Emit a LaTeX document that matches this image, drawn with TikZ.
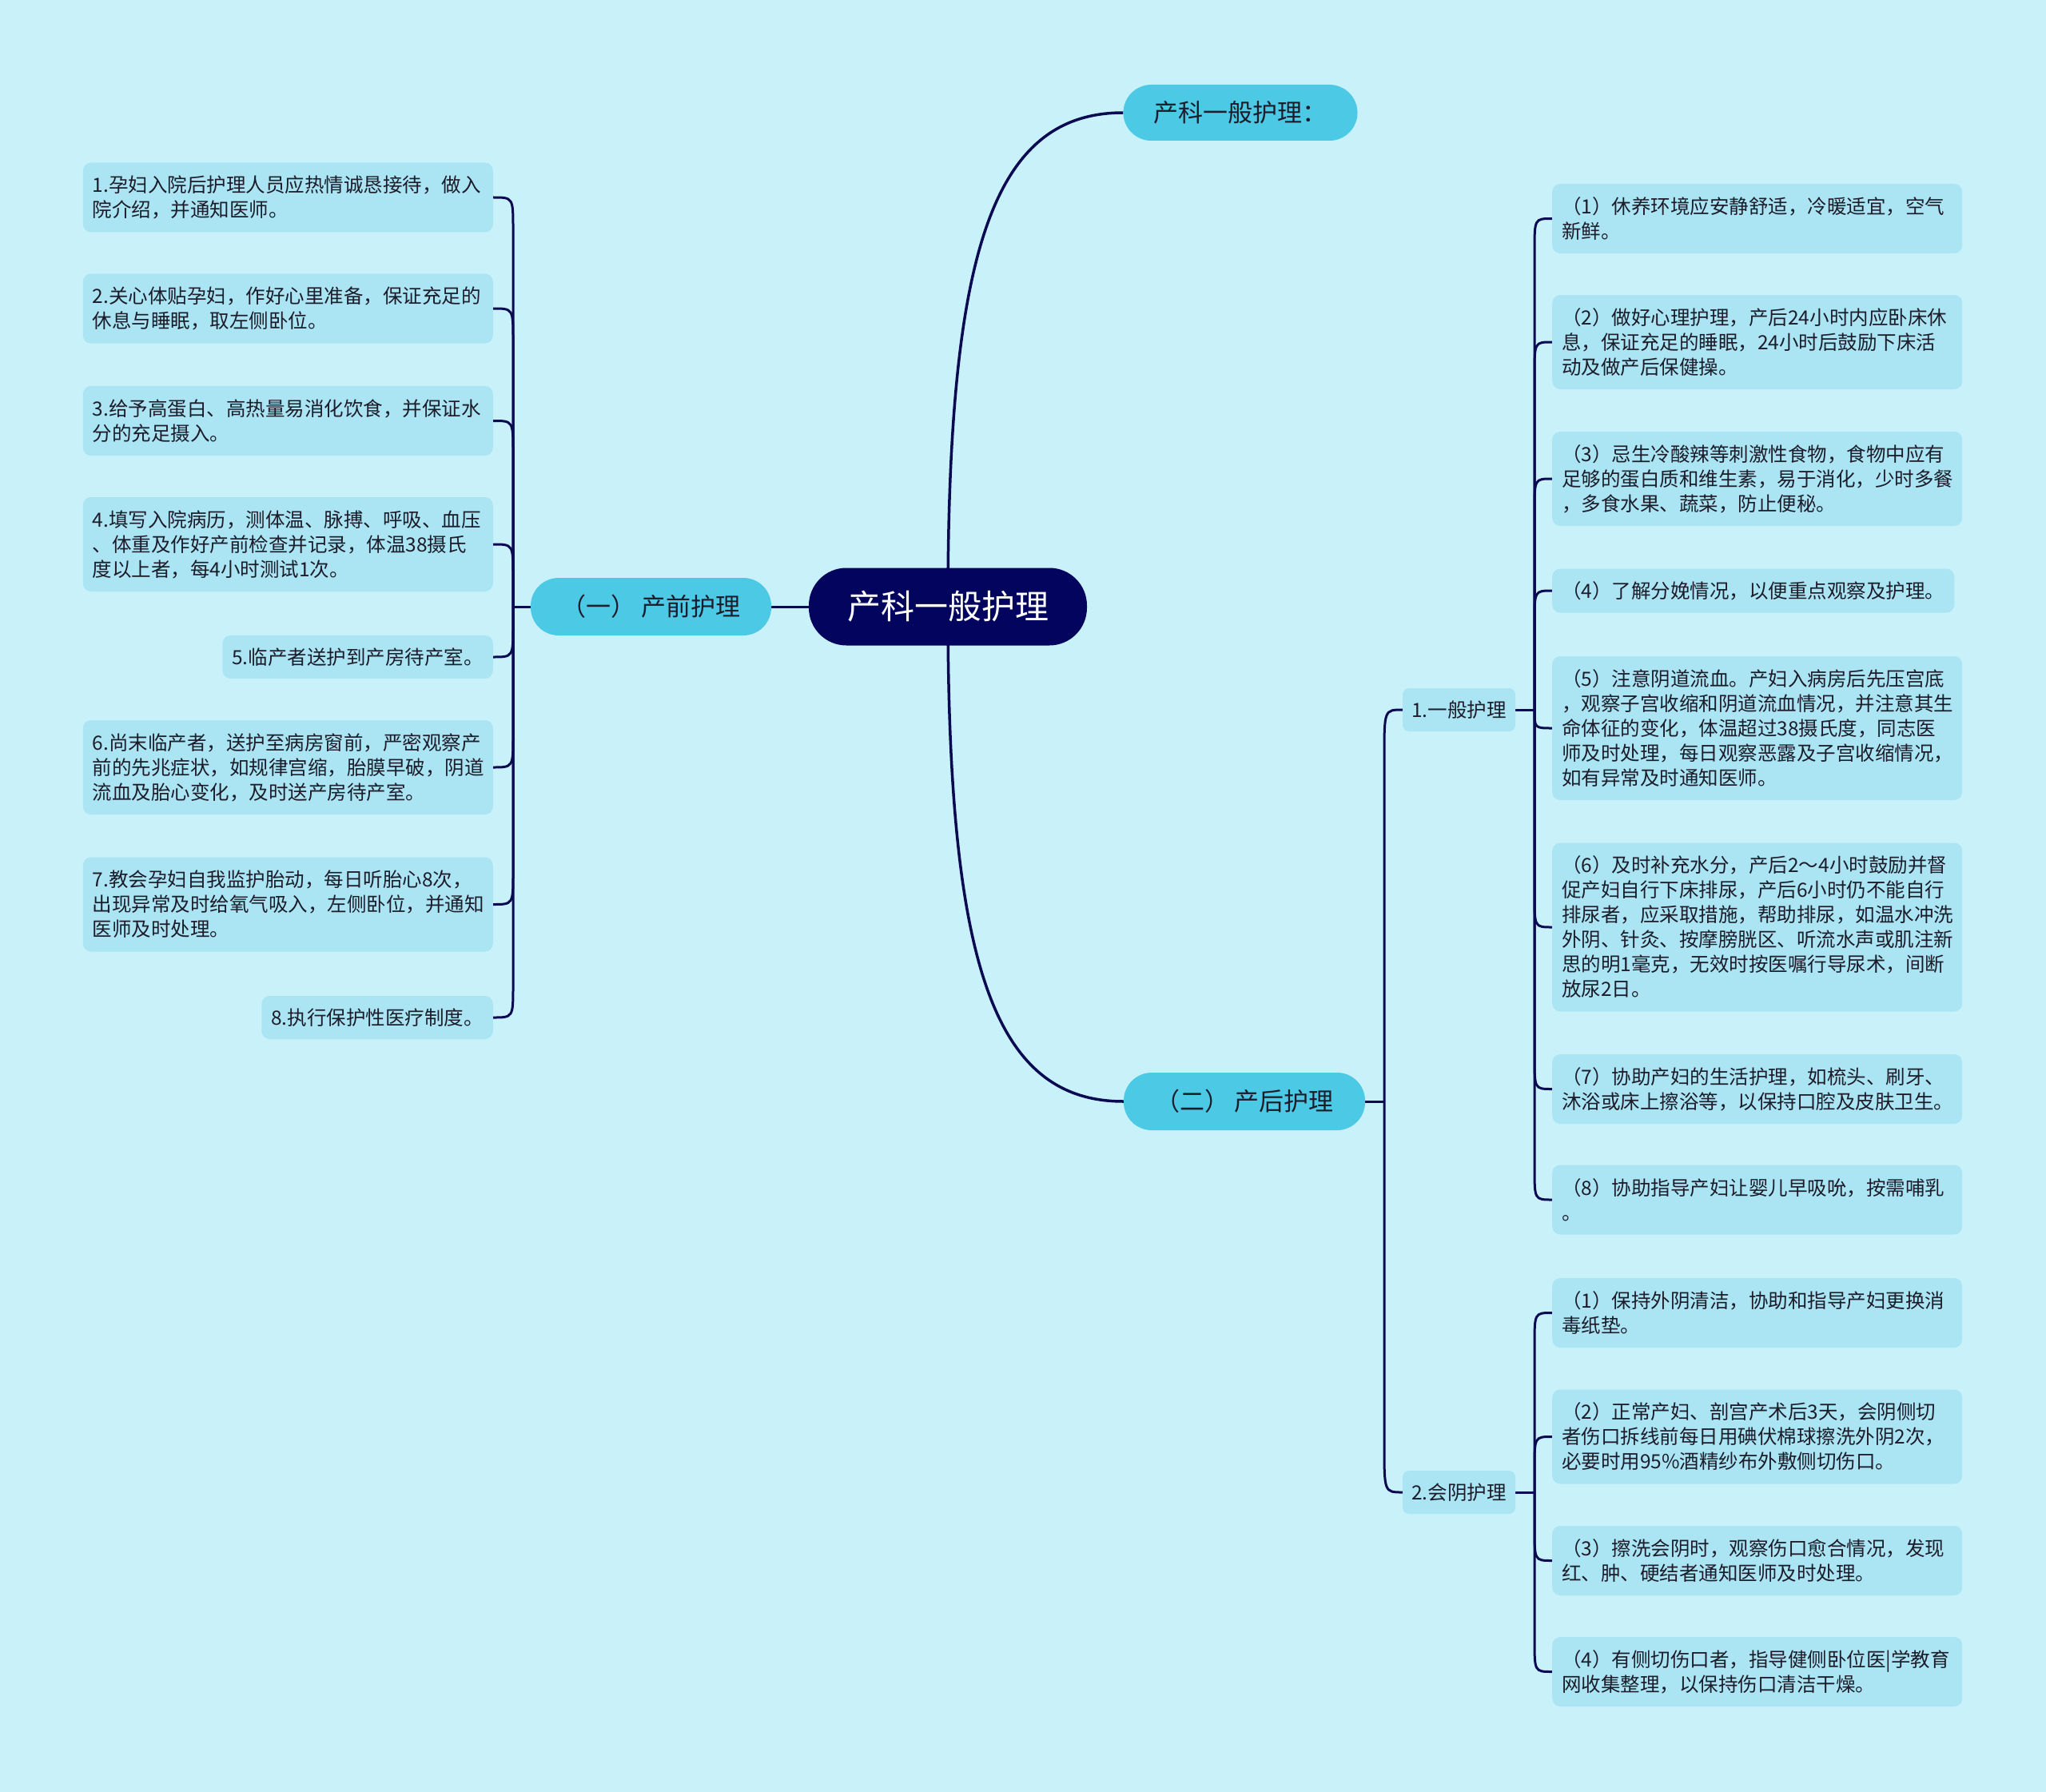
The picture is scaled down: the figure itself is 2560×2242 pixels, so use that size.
\documentclass[tikz,border=0pt]{standalone}
\usepackage{fontspec}
\setmainfont{Noto Sans CJK SC}
\usetikzlibrary{calc}
\pgfdeclarelayer{bglayer}
\pgfdeclarelayer{lines}
\pgfsetlayers{bglayer,lines,main}
\definecolor{bgc}{HTML}{C9F1F9}
\definecolor{leafc}{HTML}{ABE5F3}
\definecolor{midc}{HTML}{4CC9E4}
\definecolor{rootc}{HTML}{03045E}
\definecolor{linec}{HTML}{0A0A52}
\definecolor{txtc}{HTML}{1C1C2A}
\begin{document}
\begin{tikzpicture}[x=1pt,y=-1pt,
  leaf/.style={fill=leafc, rounded corners=10pt, text=txtc, font=\fontsize{24.5}{31}\selectfont, inner xsep=12pt, inner ysep=0pt, align=left},
  lleaf/.style={leaf, anchor=east, text width=489pt},
  rleaf/.style={leaf, anchor=west, text width=489pt},
  sub/.style={fill=leafc, rounded corners=8pt, text=txtc, font=\fontsize{24.5}{30}\selectfont, inner sep=0pt, minimum width=141pt, minimum height=54pt},
  pill/.style={fill=midc, rounded corners=35pt, text=txtc, font=\fontsize{31}{36}\selectfont, minimum height=72pt, minimum width=301pt, inner sep=0pt},
  rootbox/.style={fill=rootc, rounded corners=47pt, text=white, font=\fontsize{42}{48}\selectfont, minimum width=348pt, minimum height=97pt, inner sep=0pt},
  conn/.style={draw=linec, line width=3pt},
  bigconn/.style={draw=linec, line width=3.5pt}
]
\useasboundingbox (0,0) rectangle (2560,2242);
\begin{pgfonlayer}{bglayer}
\fill[bgc] (0,0) rectangle (2560,2242);
\end{pgfonlayer}

% main nodes
\node[rootbox] (root) at (1186,759) {产科一般护理};
\node[pill, minimum width=293pt, minimum height=70pt] (top) at (1552,141) {产科一般护理：};
\node[pill] (pre) at (814.5,759) {（一） 产前护理};
\node[pill, minimum width=302pt] (post) at (1557,1378) {（二） 产后护理};

\node[sub] (g1) at (1825.5,888) {1.一般护理};
\node[sub] (g2) at (1825.5,1867) {2.会阴护理};

% left leaves
\node[lleaf, minimum height=87pt] (L1) at (617,247) {1.孕妇入院后护理人员应热情诚恳接待，做入\\院介绍，并通知医师。};
\node[lleaf, minimum height=87pt] (L2) at (617,386) {2.关心体贴孕妇，作好心里准备，保证充足的\\休息与睡眠，取左侧卧位。};
\node[lleaf, minimum height=87pt] (L3) at (617,526.5) {3.给予高蛋白、高热量易消化饮食，并保证水\\分的充足摄入。};
\node[lleaf, minimum height=118pt] (L4) at (617,681) {4.填写入院病历，测体温、脉搏、呼吸、血压\\、体重及作好产前检查并记录，体温38摄氏\\度以上者，每4小时测试1次。};
\node[leaf, anchor=east, minimum height=54pt, minimum width=336pt] (L5) at (617,822) {5.临产者送护到产房待产室。};
\node[lleaf, minimum height=118pt] (L6) at (617,960) {6.尚末临产者，送护至病房窗前，严密观察产\\前的先兆症状，如规律宫缩，胎膜早破，阴道\\流血及胎心变化，及时送产房待产室。};
\node[lleaf, minimum height=118pt] (L7) at (617,1131.5) {7.教会孕妇自我监护胎动，每日听胎心8次，\\出现异常及时给氧气吸入，左侧卧位，并通知\\医师及时处理。};
\node[leaf, anchor=east, minimum height=54pt, minimum width=287pt] (L8) at (617,1273) {8.执行保护性医疗制度。};

% right leaves
\node[rleaf, minimum height=87pt] (R1) at (1942,273.5) {（1）休养环境应安静舒适，冷暖适宜，空气\\新鲜。};
\node[rleaf, minimum height=118pt] (R2) at (1942,428) {（2）做好心理护理，产后24小时内应卧床休\\息，保证充足的睡眠，24小时后鼓励下床活\\动及做产后保健操。};
\node[rleaf, minimum height=118pt] (R3) at (1942,599) {（3）忌生冷酸辣等刺激性食物，食物中应有\\足够的蛋白质和维生素，易于消化，少时多餐\\，多食水果、蔬菜，防止便秘。};
\node[leaf, anchor=west, minimum height=55pt, minimum width=502pt] (R4) at (1942,739) {（4）了解分娩情况，以便重点观察及护理。};
\node[rleaf, minimum height=180pt] (R5) at (1942,911) {（5）注意阴道流血。产妇入病房后先压宫底\\，观察子宫收缩和阴道流血情况，并注意其生\\命体征的变化，体温超过38摄氏度，同志医\\师及时处理，每日观察恶露及子宫收缩情况，\\如有异常及时通知医师。};
\node[rleaf, minimum height=211pt] (R6) at (1942,1160) {（6）及时补充水分，产后2～4小时鼓励并督\\促产妇自行下床排尿，产后6小时仍不能自行\\排尿者，应采取措施，帮助排尿，如温水冲洗\\外阴、针灸、按摩膀胱区、听流水声或肌注新\\思的明1毫克，无效时按医嘱行导尿术，间断\\放尿2日。};
\node[rleaf, minimum height=87pt] (R7) at (1942,1362.5) {（7）协助产妇的生活护理，如梳头、刷牙、\\沐浴或床上擦浴等，以保持口腔及皮肤卫生。};
\node[rleaf, minimum height=87pt] (R8) at (1942,1501) {（8）协助指导产妇让婴儿早吸吮，按需哺乳\\。};

\node[rleaf, minimum height=87pt] (S1) at (1942,1642.5) {（1）保持外阴清洁，协助和指导产妇更换消\\毒纸垫。};
\node[rleaf, minimum height=118pt] (S2) at (1942,1797.5) {（2）正常产妇、剖宫产术后3天，会阴侧切\\者伤口拆线前每日用碘伏棉球擦洗外阴2次，\\必要时用95\%酒精纱布外敷侧切伤口。};
\node[rleaf, minimum height=87pt] (S3) at (1942,1952.5) {（3）擦洗会阴时，观察伤口愈合情况，发现\\红、肿、硬结者通知医师及时处理。};
\node[rleaf, minimum height=87pt] (S4) at (1942,2091.5) {（4）有侧切伤口者，指导健侧卧位医|学教育\\网收集整理，以保持伤口清洁干燥。};

% joints
\coordinate (lj) at (642,759);
\coordinate (pj) at (1732,1378);
\coordinate (g1j) at (1920,888);
\coordinate (g2j) at (1920,1867);

\begin{pgfonlayer}{lines}
% root branches
\draw[bigconn] (root.center) .. controls (1186,320) and (1240,141) .. (top.west);
\draw[bigconn] (root.center) .. controls (1186,1198) and (1240,1378) .. (post.west);
\draw[conn] (root.west) -- (pre.east);

% left bracket
\draw[conn] (pre.west) -- (lj);
\foreach \n in {L1,L2,L3,L4}
  \draw[conn] (lj) -- ($(lj |- \n.east)+(0,40)$) .. controls (lj |- \n.east) .. (\n.east);
\foreach \n in {L5,L6,L7,L8}
  \draw[conn] (lj) -- ($(lj |- \n.east)+(0,-40)$) .. controls (lj |- \n.east) .. (\n.east);

% post branches
\draw[conn] (post.east) -- (pj);
\draw[conn] (pj) -- ($(pj |- g1.west)+(0,60)$) .. controls (pj |- g1.west) .. (g1.west);
\draw[conn] (pj) -- ($(pj |- g2.west)+(0,-60)$) .. controls (pj |- g2.west) .. (g2.west);

% g1 bracket
\draw[conn] (g1.east) -- (g1j);
\foreach \n in {R1,R2,R3,R4}
  \draw[conn] (g1j) -- ($(g1j |- \n.west)+(0,40)$) .. controls (g1j |- \n.west) .. (\n.west);
\draw[conn] (g1j) .. controls (g1j |- R5.west) .. (R5.west);
\foreach \n in {R6,R7,R8}
  \draw[conn] (g1j) -- ($(g1j |- \n.west)+(0,-40)$) .. controls (g1j |- \n.west) .. (\n.west);

% g2 bracket
\draw[conn] (g2.east) -- (g2j);
\foreach \n in {S1,S2}
  \draw[conn] (g2j) -- ($(g2j |- \n.west)+(0,40)$) .. controls (g2j |- \n.west) .. (\n.west);
\foreach \n in {S3,S4}
  \draw[conn] (g2j) -- ($(g2j |- \n.west)+(0,-40)$) .. controls (g2j |- \n.west) .. (\n.west);
\end{pgfonlayer}
\end{tikzpicture}
\end{document}
